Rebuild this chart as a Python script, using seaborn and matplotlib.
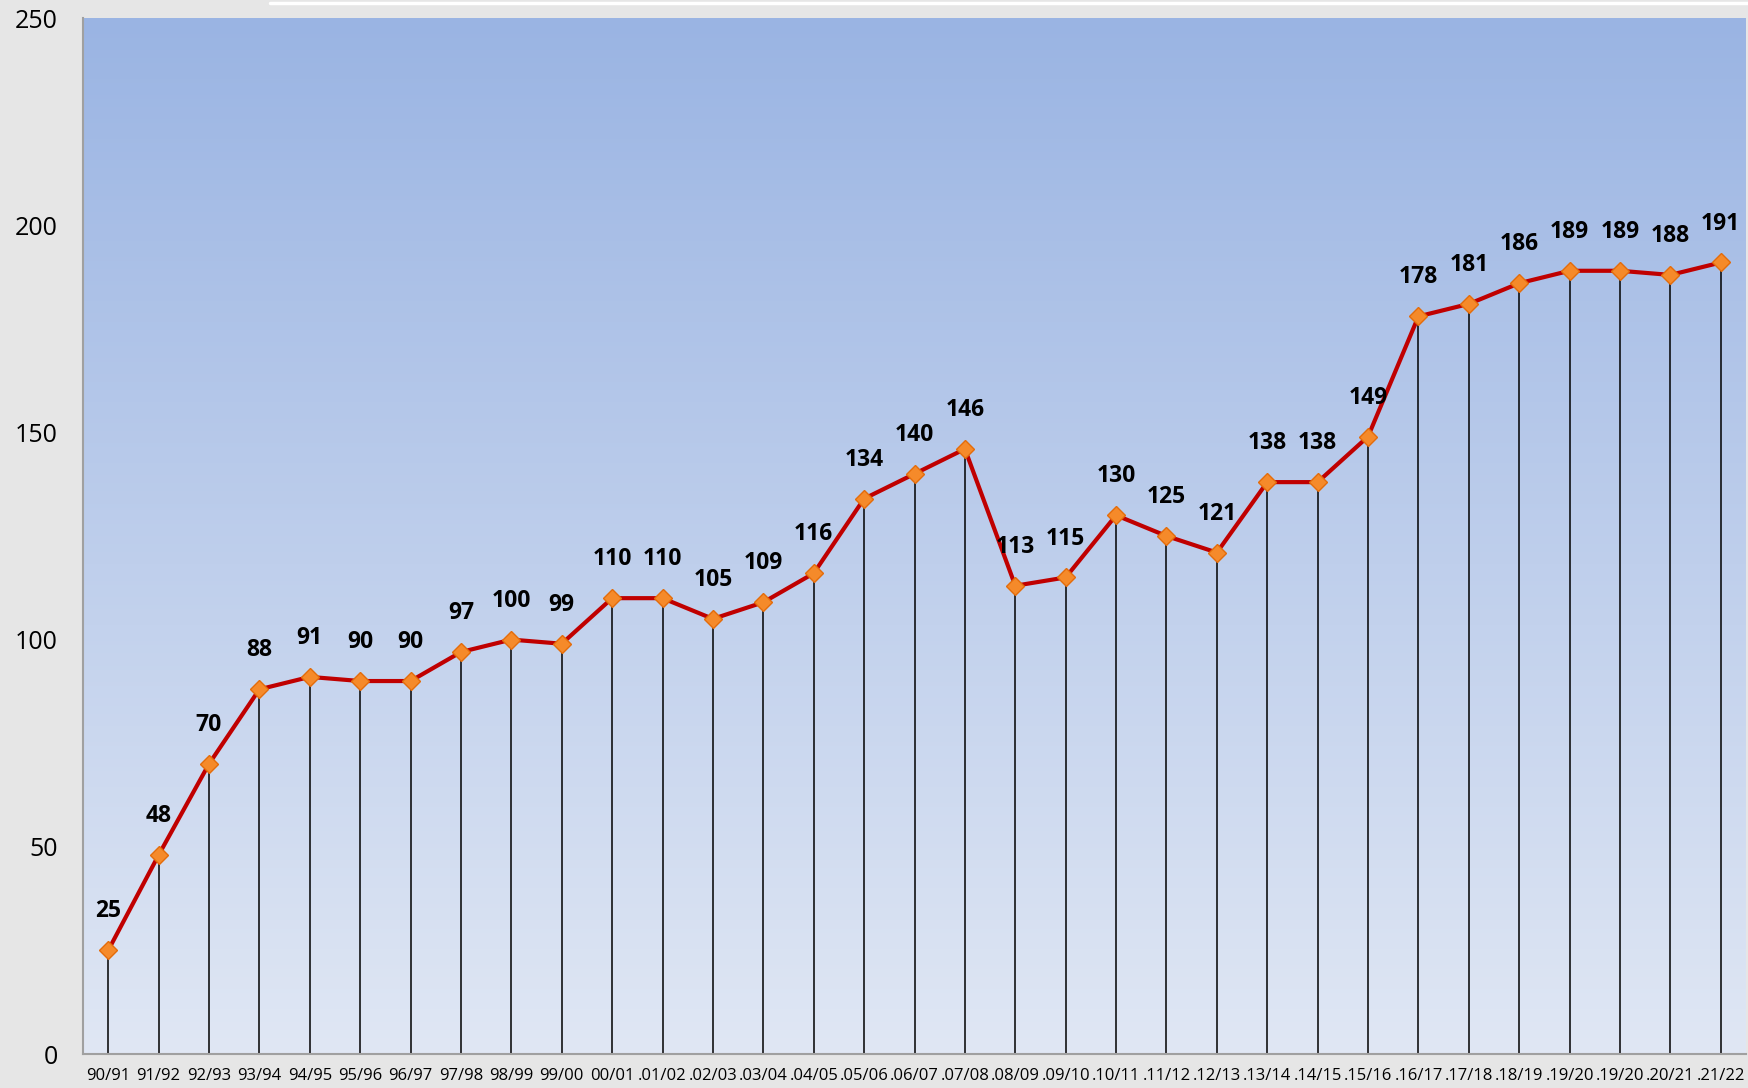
import numpy as np
import pandas as pd
import matplotlib
matplotlib.use("Agg")
import matplotlib.pyplot as plt
from matplotlib.colors import LinearSegmentedColormap
import seaborn as sns

seasons = ["90/91", "91/92", "92/93", "93/94", "94/95", "95/96", "96/97", "97/98",
           "98/99", "99/00", "00/01", ".01/02", ".02/03", ".03/04", ".04/05", ".05/06",
           ".06/07", ".07/08", ".08/09", ".09/10", ".10/11", ".11/12", ".12/13", ".13/14",
           ".14/15", ".15/16", ".16/17", ".17/18", ".18/19", ".19/20", ".19/20", ".20/21",
           ".21/22"]
values = [25, 48, 70, 88, 91, 90, 90, 97, 100, 99, 110, 110, 105, 109, 116, 134,
          140, 146, 113, 115, 130, 125, 121, 138, 138, 149, 178, 181, 186, 189, 189,
          188, 191]

df = pd.DataFrame({"pos": np.arange(len(values)), "value": values})

sns.set_style("white")
plt.rcParams["font.family"] = ["Open Sans", "DejaVu Sans"]

fig = plt.figure(figsize=(17.49, 10.88), dpi=100, facecolor="#e6e6e6")
# thin white frame edge at the very top
fig.add_artist(plt.Line2D([270 / 1749, 1], [1 - 3 / 1088, 1 - 3 / 1088],
                          color="white", lw=2.5, transform=fig.transFigure))
ax = fig.add_axes([83 / 1749, 1 - 1054 / 1088, (1746 - 83) / 1749, (1054 - 18) / 1088])

# gradient background
cmap = LinearSegmentedColormap.from_list("bg", ["#e0e7f4", "#9ab4e3"])
grad = np.linspace(0, 1, 256).reshape(-1, 1)
ax.imshow(grad, aspect="auto", cmap=cmap, origin="lower",
          extent=[-0.5, len(values) - 0.5, 0, 250], zorder=0)

# drop lines
ax.vlines(df["pos"], 0, df["value"], color="black", lw=1.1, zorder=1)

sns.lineplot(data=df, x="pos", y="value", ax=ax, color="#c00000", lw=3,
             marker="D", markersize=9, markerfacecolor="#f58a2a",
             markeredgecolor="#e46c0a", markeredgewidth=1, zorder=3)

for x, v in zip(df["pos"], df["value"]):
    ax.text(x, v + 6.5, str(v), ha="center", va="bottom", fontsize=16.5,
            fontweight="bold", color="black", zorder=4)

ax.set_xlim(-0.5, len(values) - 0.5)
ax.set_ylim(0, 250)
ax.set_yticks([0, 50, 100, 150, 200, 250])
ax.set_xticks(df["pos"])
ax.set_xticklabels(seasons, fontsize=12)
ax.tick_params(axis="y", labelsize=18, length=6, color="#a0a0a0", pad=12,
               labelcolor="black")
ax.tick_params(axis="x", length=0, pad=10, labelcolor="black")
ax.set_xlabel("")
ax.set_ylabel("")
for s in ["top", "right"]:
    ax.spines[s].set_visible(False)
for s in ["left", "bottom"]:
    ax.spines[s].set_color("#a0a0a0")
    ax.spines[s].set_linewidth(1.5)

fig.savefig("out.png", dpi=100, facecolor=fig.get_facecolor())
